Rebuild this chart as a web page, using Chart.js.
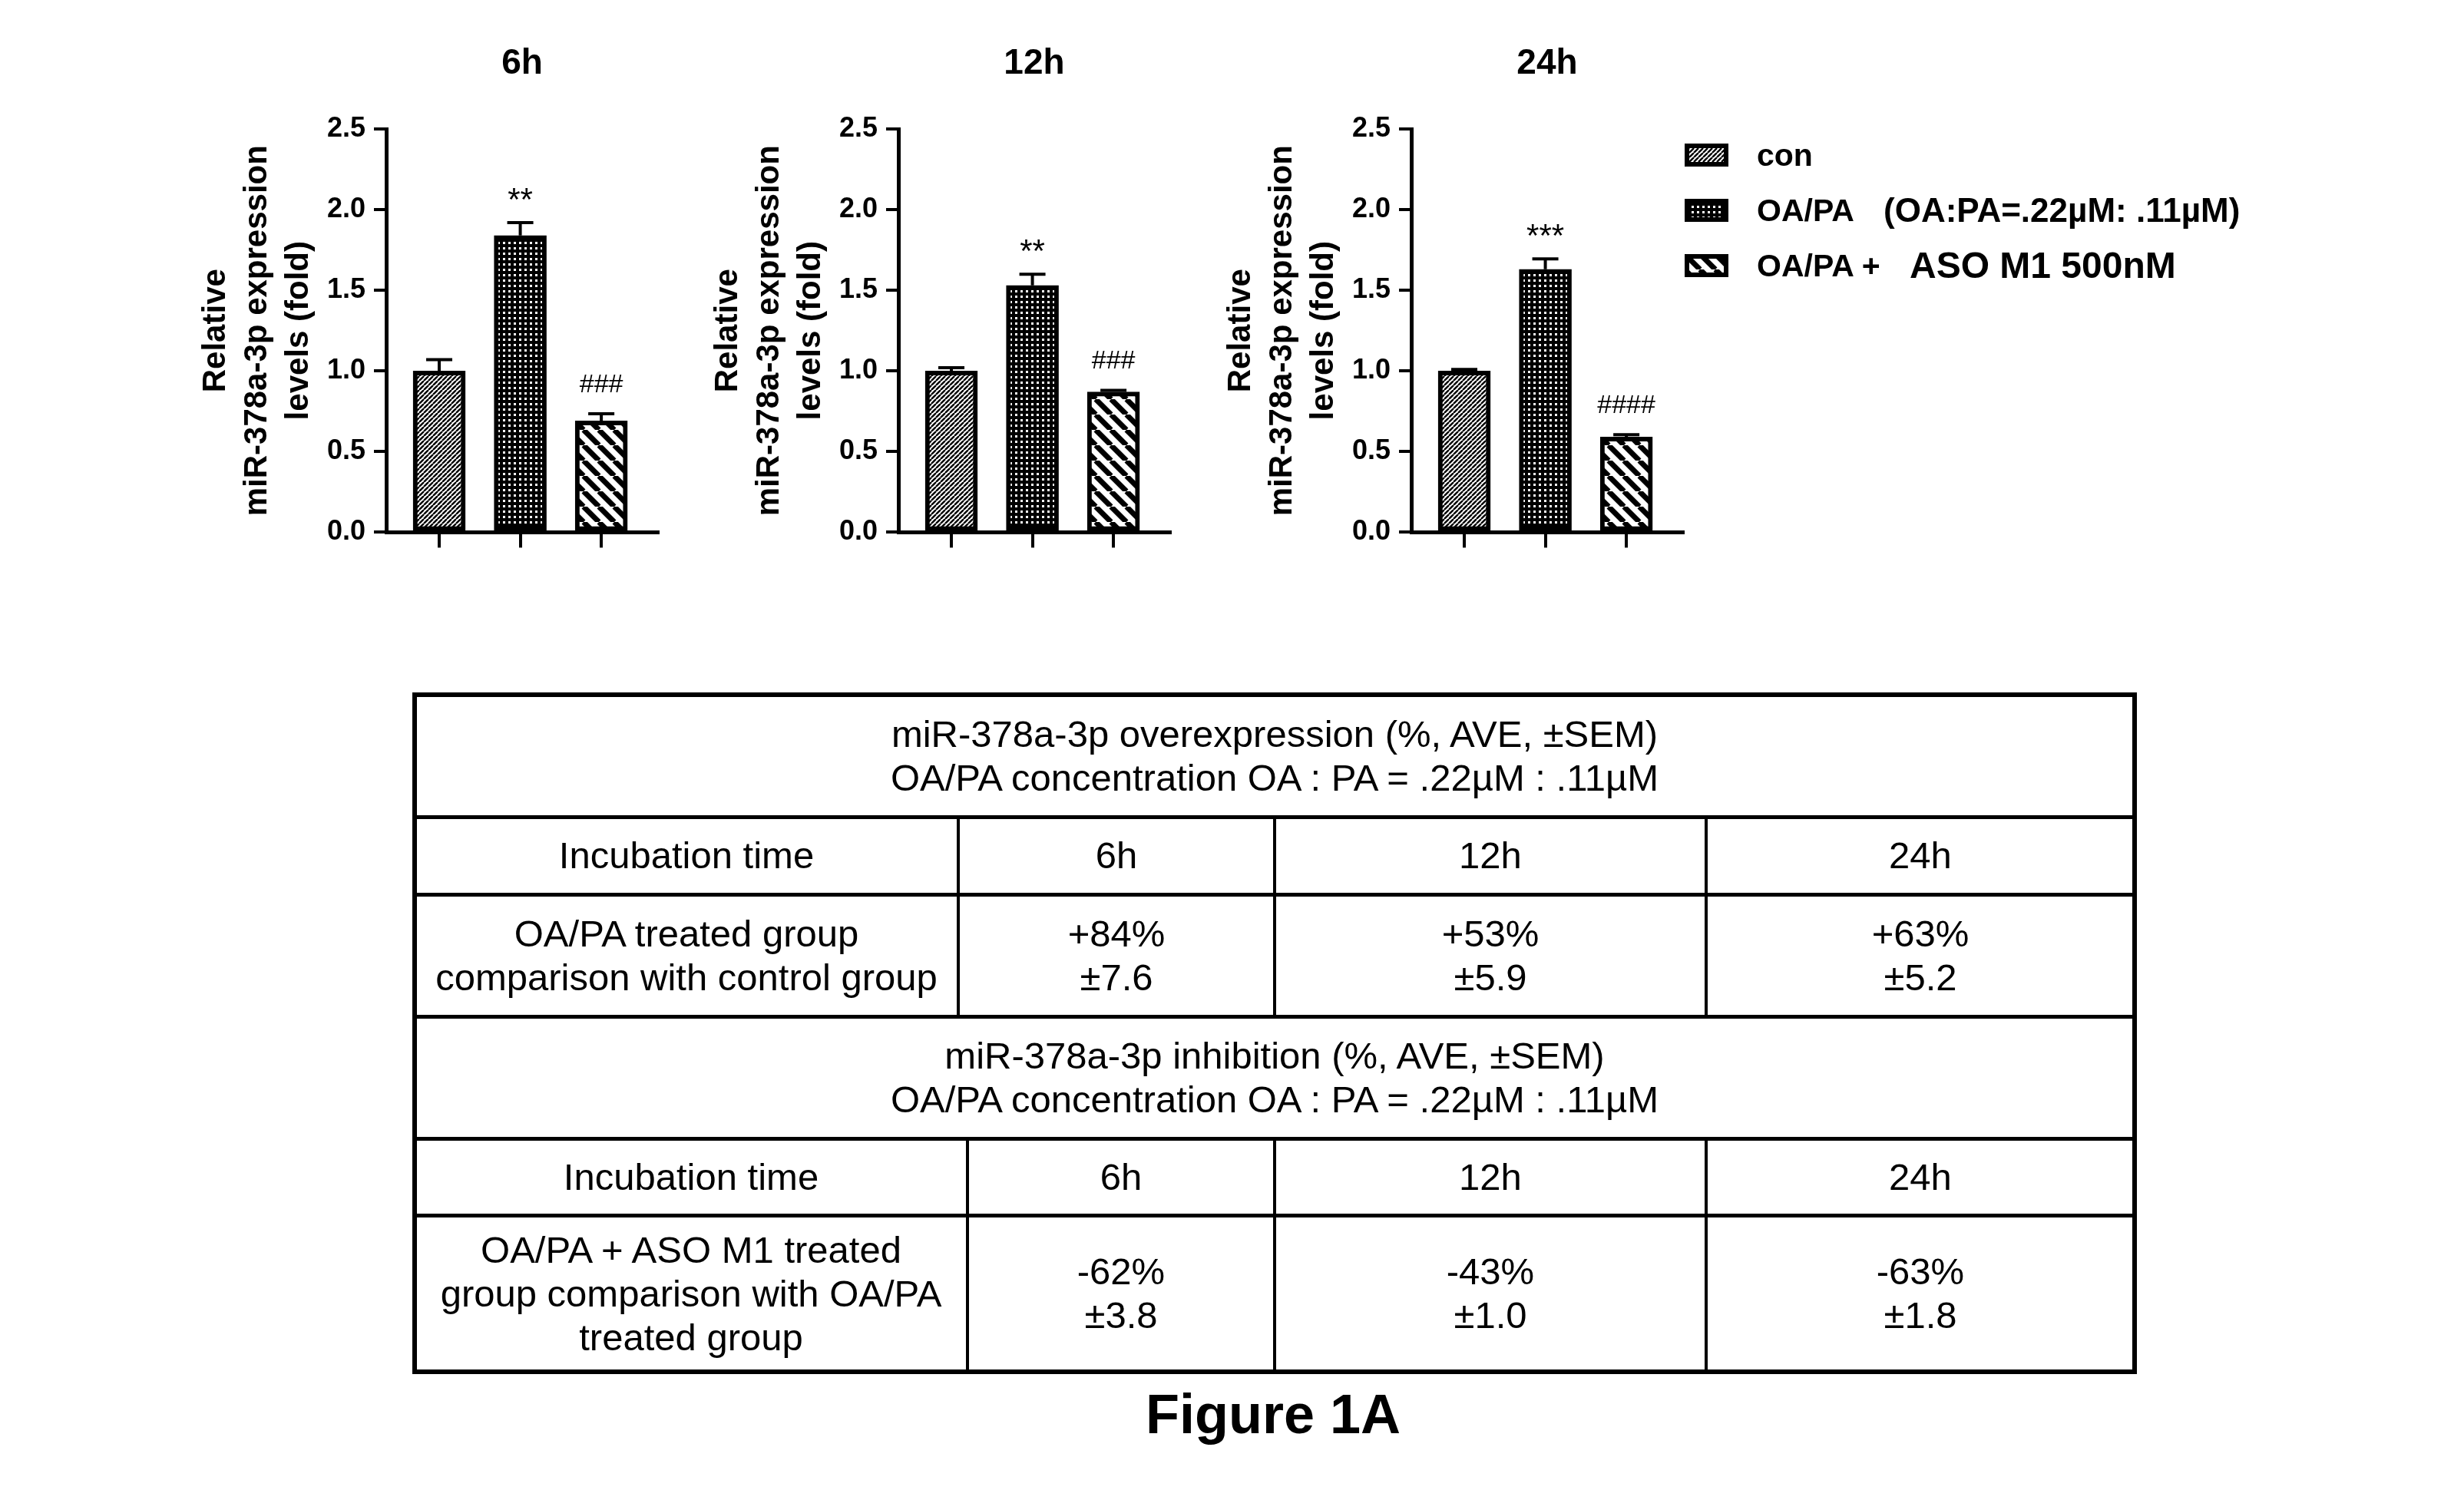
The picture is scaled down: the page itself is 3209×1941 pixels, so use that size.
<!DOCTYPE html>
<html>
<head>
<meta charset="utf-8">
<title>Figure 1A</title>
<script src="https://cdn.jsdelivr.net/npm/chart.js@4.4.1/dist/chart.umd.min.js"></script>
<style>
  html, body { margin: 0; padding: 0; background: #fff; }
  body {
    width: 3209px; height: 1941px; position: relative; overflow: hidden;
    font-family: "Liberation Sans", Arial, sans-serif; color: #000;
  }
  canvas.chart { position: absolute; top: 40px; }
  .lg { position: absolute; left: 2194px; height: 40px; width: 900px; }
  .lg canvas { position: absolute; left: 0; top: 5px; }
  .lg span { position: absolute; top: 0; line-height: 40px; font-weight: bold; white-space: nowrap; }
  .ln { position: absolute; background: #000; }
  .cell {
    position: absolute; display: flex; flex-direction: column;
    align-items: center; justify-content: center; text-align: center;
    font-size: 49px; line-height: 57px; white-space: nowrap;
  }
  #caption {
    position: absolute; left: 1258px; width: 800px; top: 1800px; text-align: center;
    font-size: 72px; font-weight: bold; line-height: 84px;
  }
</style>
</head>
<body>

<div id="caption">Figure 1A</div>

<script>
// ---- data ----
const times = ['6h', '12h', '24h'];
const groups = ['con', 'OA/PA', 'OA/PA + ASO M1 500nM'];

const mean6h = [1.00, 1.84, 0.69];
const sem6h = [0.07, 0.08, 0.045];
const mark6h = ['', '**', '###'];

const mean12h = [1.00, 1.53, 0.87];
const sem12h = [0.02, 0.07, 0.01];
const mark12h = ['', '**', '###'];

const mean24h = [1.00, 1.63, 0.59];
const sem24h = [0.01, 0.065, 0.015];
const mark24h = ['', '***', '####'];

const yMax = 2.5;
const yStep = 0.5;
const yTitle = ['Relative', 'miR-378a-3p expression', 'levels (fold)'];

const legendMain = ['con', 'OA/PA', 'OA/PA +'];
const legendNote = ['', '(OA:PA=.22\u00b5M: .11\u00b5M)', 'ASO M1 500nM'];

const overTitle = ['miR-378a-3p overexpression (%, AVE, \u00b1SEM)', 'OA/PA concentration OA : PA = .22\u00b5M : .11\u00b5M'];
const overLabel = ['OA/PA treated group', 'comparison with control group'];
const overPct = ['+84%', '+53%', '+63%'];
const overSem = ['\u00b17.6', '\u00b15.9', '\u00b15.2'];

const inhTitle = ['miR-378a-3p inhibition (%, AVE, \u00b1SEM)', 'OA/PA concentration OA : PA = .22\u00b5M : .11\u00b5M'];
const inhLabel = ['OA/PA + ASO M1 treated', 'group comparison with OA/PA', 'treated group'];
const inhPct = ['-62%', '-43%', '-63%'];
const inhSem = ['\u00b13.8', '\u00b11.0', '\u00b11.8'];

// ---- hatch patterns ----
function makePattern(kind) {
  const c = document.createElement('canvas');
  const ctx = c.getContext('2d');
  if (kind === 'con') {
    const s = 6;
    c.width = s; c.height = s;
    ctx.fillStyle = '#fff'; ctx.fillRect(0, 0, s, s);
    ctx.strokeStyle = '#000'; ctx.lineWidth = 2.4;
    ctx.beginPath();
    for (const k of [-s, 0, s]) { ctx.moveTo(k, s); ctx.lineTo(k + s, 0); }
    ctx.stroke();
  } else if (kind === 'oapa') {
    const s = 7;
    c.width = s; c.height = s;
    ctx.fillStyle = '#000'; ctx.fillRect(0, 0, s, s);
    ctx.fillStyle = '#fff'; ctx.fillRect(2, 2, 3, 3);
  } else {
    const s = 20;
    c.width = s; c.height = s;
    ctx.fillStyle = '#fff'; ctx.fillRect(0, 0, s, s);
    ctx.strokeStyle = '#000'; ctx.lineWidth = 7;
    ctx.beginPath();
    for (const k of [-s, 0, s]) { ctx.moveTo(k, 0); ctx.lineTo(k + s, s); }
    ctx.stroke();
  }
  return ctx.createPattern(c, 'repeat');
}
const patterns = [makePattern('con'), makePattern('oapa'), makePattern('aso')];

// ---- error bars + significance marks ----
const errPlugin = {
  id: 'errMarks',
  afterDatasetsDraw(chart) {
    const ctx = chart.ctx;
    const ys = chart.scales.y;
    const ds = chart.data.datasets[0];
    const meta = chart.getDatasetMeta(0);
    ctx.save();
    meta.data.forEach((bar, i) => {
      const top = ys.getPixelForValue(ds.data[i].y + ds.sems[i]);
      ctx.strokeStyle = '#000';
      ctx.lineWidth = 4;
      ctx.beginPath();
      ctx.moveTo(bar.x, bar.y);
      ctx.lineTo(bar.x, top);
      ctx.moveTo(bar.x - 17, top);
      ctx.lineTo(bar.x + 17, top);
      ctx.stroke();
      const m = ds.marks[i];
      if (m) {
        const cy = top - 40;
        ctx.fillStyle = '#000';
        ctx.textAlign = 'center';
        ctx.textBaseline = 'alphabetic';
        if (m[0] === '*') {
          ctx.font = '42px "Liberation Sans", Arial, sans-serif';
          ctx.fillText(m, bar.x, cy + 24);
        } else {
          ctx.font = '34px "Liberation Sans", Arial, sans-serif';
          ctx.fillText(m, bar.x, cy + 12);
        }
      }
    });
    ctx.restore();
  }
};

Chart.defaults.font.family = '"Liberation Sans", Arial, sans-serif';
Chart.defaults.color = '#000';

function makeChart(left, title, means, sems, marks) {
  const cv = document.createElement('canvas');
  cv.className = 'chart';
  cv.width = 625; cv.height = 686;
  cv.style.left = left + 'px';
  document.body.appendChild(cv);
  return new Chart(cv, {
    type: 'bar',
    data: {
      datasets: [{
        label: title,
        data: means.map((v, i) => ({ x: i + 1, y: v })),
        sems: sems,
        marks: marks,
        backgroundColor: patterns,
        borderColor: '#000',
        borderWidth: 6,
        borderSkipped: false,
        barThickness: 68
      }]
    },
    options: {
      responsive: false,
      animation: false,
      devicePixelRatio: 1,
      layout: { padding: { left: 0, right: 8, top: 0, bottom: 0 } },
      plugins: {
        legend: { display: false },
        tooltip: { enabled: false },
        title: {
          display: true, text: title, fullSize: false, color: '#000',
          font: { size: 46, weight: 'bold', lineHeight: 1.2 },
          padding: { top: 15.4, bottom: 57.4 }
        }
      },
      scales: {
        x: {
          type: 'linear', min: 0.346, max: 3.70, offset: false,
          afterBuildTicks: s => { s.ticks = [1, 2, 3].map(v => ({ value: v })); },
          afterFit: s => { s.height = 30; },
          ticks: { display: false },
          grid: { display: true, drawOnChartArea: false, drawTicks: true, tickLength: 20, lineWidth: 4, color: '#000', offset: false },
          border: { display: true, color: '#000', width: 5 }
        },
        y: {
          min: 0, max: yMax,
          afterFit: s => { s.width = 263; },
          ticks: {
            stepSize: yStep, color: '#000', padding: 11,
            font: { size: 36, weight: 'bold' },
            callback: v => Number(v).toFixed(1)
          },
          grid: { drawOnChartArea: false, tickLength: 16, lineWidth: 4, color: '#000' },
          border: { color: '#000', width: 5 },
          title: {
            display: true, text: yTitle, color: '#000',
            font: { size: 42, weight: 'bold', lineHeight: 54 / 42 },
            padding: { top: 14, bottom: 0 }
          }
        }
      }
    },
    plugins: [errPlugin]
  });
}

makeChart(240, times[0], mean6h, sem6h, mark6h);
makeChart(907, times[1], mean12h, sem12h, mark12h);
makeChart(1575, times[2], mean24h, sem24h, mark24h);

// ---- legend ----
const legendTops = [182, 254, 326];
const noteStyle = [null, { left: 259, size: 44 }, { left: 293, size: 48 }];
legendMain.forEach((txt, i) => {
  const row = document.createElement('div');
  row.className = 'lg';
  row.style.top = legendTops[i] + 'px';
  const sw = document.createElement('canvas');
  sw.width = 57; sw.height = 30;
  const c = sw.getContext('2d');
  c.fillStyle = patterns[i];
  c.fillRect(0, 0, 57, 30);
  c.strokeStyle = '#000'; c.lineWidth = 6;
  c.strokeRect(3, 3, 51, 24);
  row.appendChild(sw);
  const a = document.createElement('span');
  a.textContent = txt;
  a.style.left = '94px';
  a.style.fontSize = '41px';
  row.appendChild(a);
  if (legendNote[i]) {
    const b = document.createElement('span');
    b.textContent = legendNote[i];
    b.style.left = noteStyle[i].left + 'px';
    b.style.fontSize = noteStyle[i].size + 'px';
    row.appendChild(b);
  }
  document.body.appendChild(row);
});

// ---- table ----
function line(x, y, w, h) {
  const d = document.createElement('div');
  d.className = 'ln';
  d.style.left = x + 'px'; d.style.top = y + 'px';
  d.style.width = w + 'px'; d.style.height = h + 'px';
  document.body.appendChild(d);
}
function cell(x1, x2, y1, y2, lines) {
  const d = document.createElement('div');
  d.className = 'cell';
  d.style.left = x1 + 'px'; d.style.top = y1 + 'px';
  d.style.width = (x2 - x1) + 'px'; d.style.height = (y2 - y1) + 'px';
  lines.forEach(t => {
    const s = document.createElement('div');
    s.textContent = t;
    d.appendChild(s);
  });
  document.body.appendChild(d);
}

const TL = 540, TR = 2780, TT = 905, TB = 1787;
const rowY = [TT, 1064, 1165, 1324, 1483, 1583, TB];
const colTop = [TL, 1248, 1660, 2222, TR];
const colBot = [TL, 1260, 1660, 2222, TR];

// outer border
line(TL - 3, TT - 3, TR - TL + 6, 6);
line(TL - 3, TB - 3, TR - TL + 6, 6);
line(TL - 3, TT - 3, 6, TB - TT + 6);
line(TR - 3, TT - 3, 6, TB - TT + 6);
// inner horizontals
rowY.slice(1, -1).forEach(y => line(TL, y - 2.5, TR - TL, 5));
// inner verticals
colTop.slice(1, -1).forEach(x => line(x - 2, rowY[1], 4, rowY[3] - rowY[1]));
colBot.slice(1, -1).forEach(x => line(x - 2, rowY[4], 4, rowY[6] - rowY[4]));

cell(TL, TR, rowY[0], rowY[1], overTitle);
cell(colTop[0], colTop[1], rowY[1], rowY[2], ['Incubation time']);
times.forEach((t, i) => cell(colTop[i + 1], colTop[i + 2], rowY[1], rowY[2], [t]));
cell(colTop[0], colTop[1], rowY[2], rowY[3], overLabel);
times.forEach((t, i) => cell(colTop[i + 1], colTop[i + 2], rowY[2], rowY[3], [overPct[i], overSem[i]]));

cell(TL, TR, rowY[3], rowY[4], inhTitle);
cell(colBot[0], colBot[1], rowY[4], rowY[5], ['Incubation time']);
times.forEach((t, i) => cell(colBot[i + 1], colBot[i + 2], rowY[4], rowY[5], [t]));
cell(colBot[0], colBot[1], rowY[5], rowY[6], inhLabel);
times.forEach((t, i) => cell(colBot[i + 1], colBot[i + 2], rowY[5], rowY[6], [inhPct[i], inhSem[i]]));
</script>
</body>
</html>
